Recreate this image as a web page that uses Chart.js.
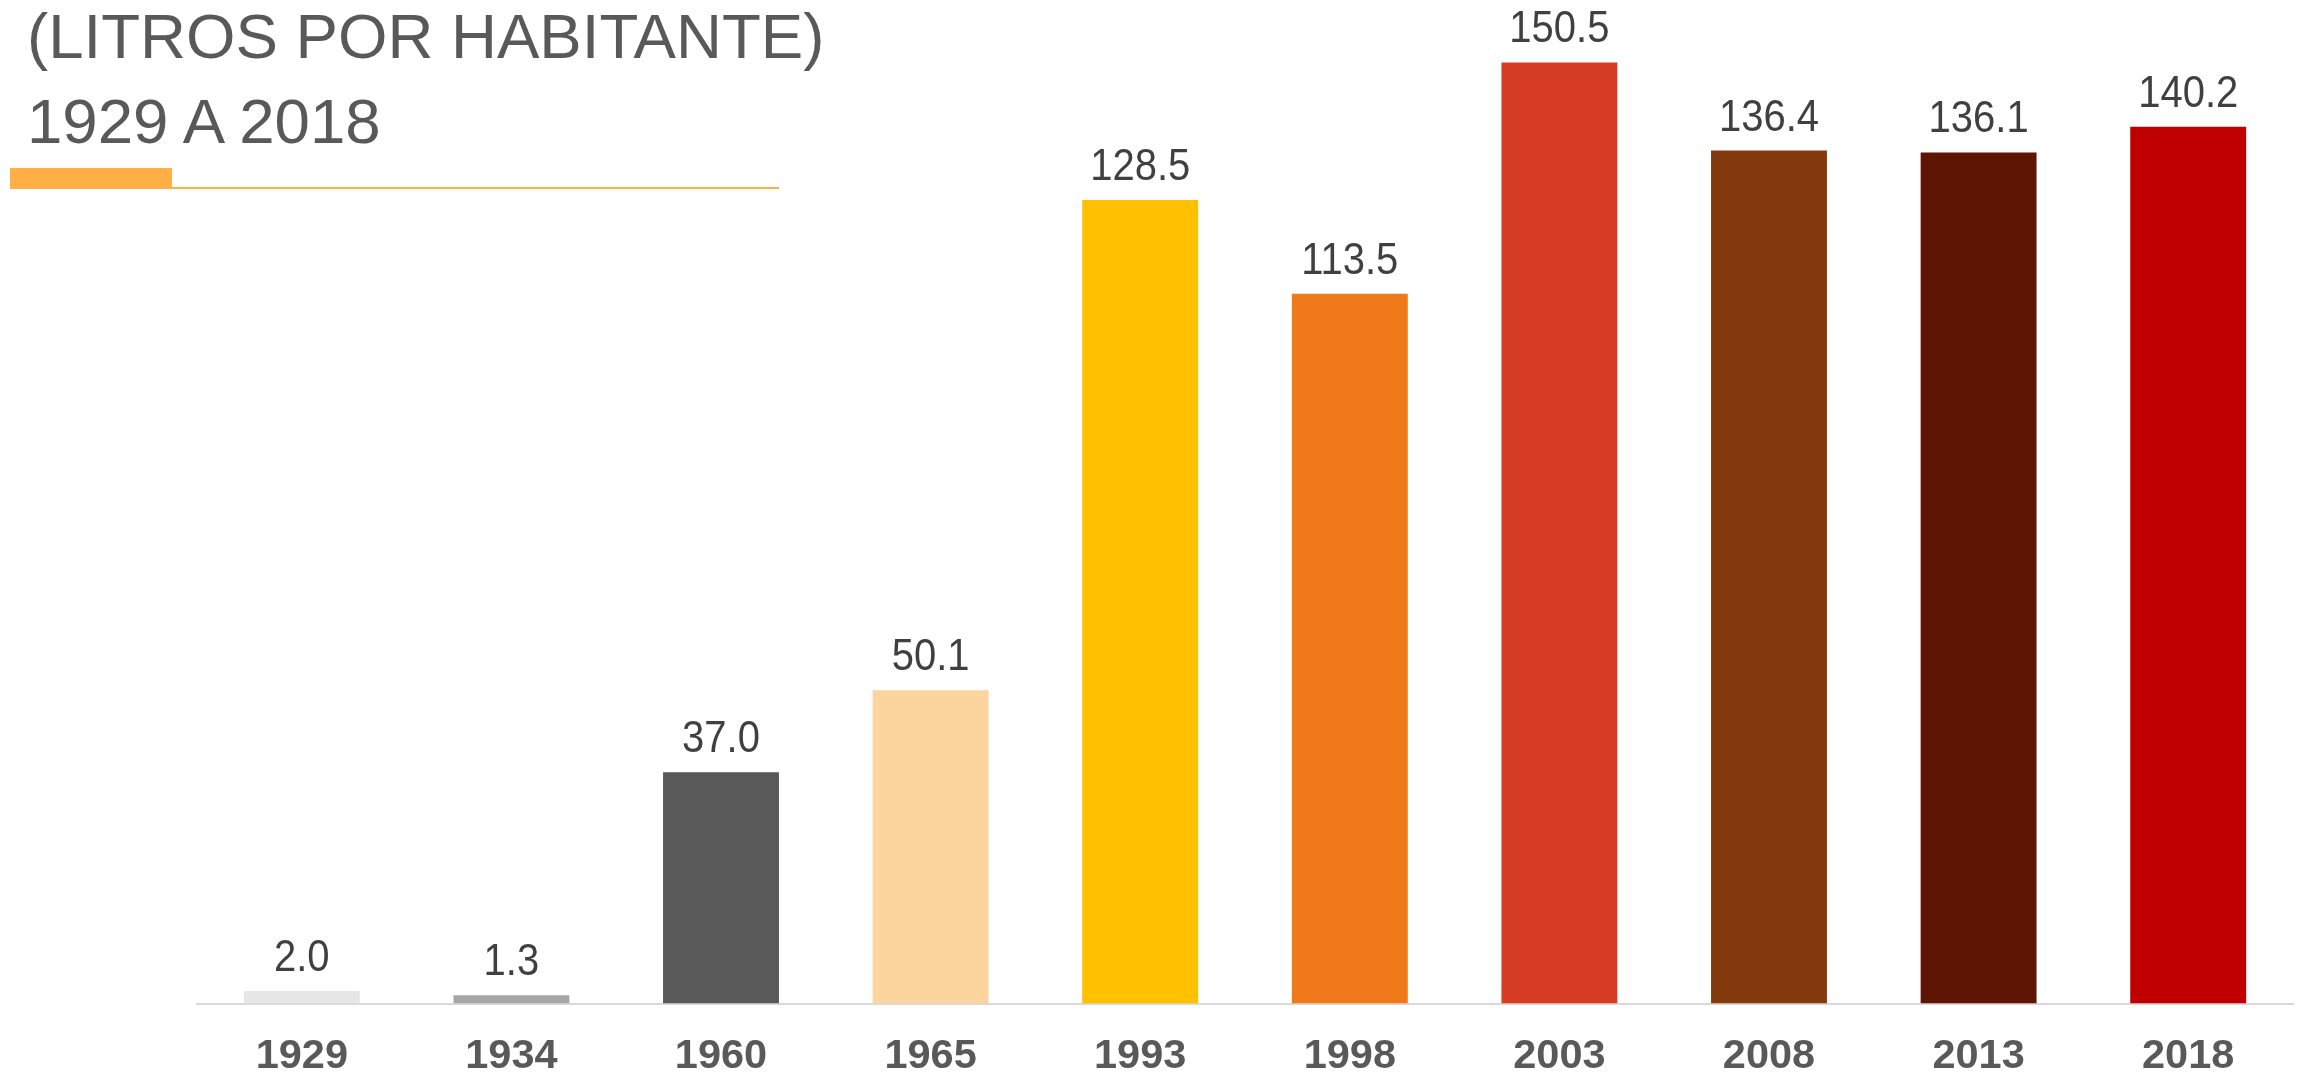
<!DOCTYPE html>
<html>
<head>
<meta charset="utf-8">
<script src="https://cdn.jsdelivr.net/npm/chart.js@4.4.1/dist/chart.umd.min.js"></script>
<style>
  html, body { margin: 0; padding: 0; background: #ffffff; }
  #wrap { position: relative; width: 2305px; height: 1077px; overflow: hidden; }
  #c { position: absolute; left: 0; top: 0; }
  .t { position: absolute; left: 27px; font-family: "Liberation Sans", Arial, sans-serif; font-size: 63.6px; line-height: 63.6px; color: #595959; white-space: nowrap; }
  #bar1 { position: absolute; left: 10px; top: 168px; width: 162px; height: 21px; background: #FFAF45; }
  #line1 { position: absolute; left: 172px; top: 187px; width: 607px; height: 2px; background: #FFAF45; }
</style>
</head>
<body>
<div id="wrap">
  <canvas id="c" width="2305" height="1077"></canvas>
  <div class="t" style="top:3.5px">(LITROS POR HABITANTE)</div>
  <div class="t" style="top:88.5px">1929 A 2018</div>
  <div id="bar1"></div>
  <div id="line1"></div>
</div>
<script>
const categories = ["1929", "1934", "1960", "1965", "1993", "1998", "2003", "2008", "2013", "2018"];
const values = [2.0, 1.3, 37.0, 50.1, 128.5, 113.5, 150.5, 136.4, 136.1, 140.2];
const barColors = ["#E6E6E6", "#A6A6A6", "#595959", "#FBD49E", "#FFC000", "#F07A1A", "#D63C23", "#843A0C", "#5E1504", "#C00000"];
const yMax = 160;

const valueLabels = {
  id: 'valueLabels',
  afterDatasetsDraw(chart) {
    const ctx = chart.ctx;
    const meta = chart.getDatasetMeta(0);
    meta.data.forEach((bar, i) => {
      ctx.save();
      ctx.font = '40px "Liberation Sans", Arial, sans-serif';
      ctx.fillStyle = '#404040';
      ctx.textAlign = 'center';
      ctx.textBaseline = 'alphabetic';
      ctx.translate(bar.x, bar.y - 20);
      ctx.scale(1, 1.1);
      ctx.fillText(values[i].toFixed(1), 0, 0);
      ctx.restore();
    });
  }
};

new Chart(document.getElementById('c'), {
  type: 'bar',
  data: {
    labels: categories,
    datasets: [{
      data: values,
      backgroundColor: barColors,
      borderWidth: 0,
      barPercentage: 0.553,
      categoryPercentage: 1.0
    }]
  },
  options: {
    responsive: false,
    animation: false,
    layout: { padding: { left: 197, right: 12, top: 3, bottom: 0 } },
    plugins: { legend: { display: false }, tooltip: { enabled: false }, title: { display: false } },
    scales: {
      x: {
        grid: { display: false, drawTicks: false },
        border: { display: true, color: '#D9D9D9', width: 2 },
        ticks: {
          color: '#595959',
          padding: 28,
          font: { family: '"Liberation Sans", Arial, sans-serif', size: 41.5, weight: 'bold' }
        },
        afterFit(axis) { axis.height = 73.5; }
      },
      y: {
        display: false,
        min: 0,
        max: yMax
      }
    }
  },
  plugins: [valueLabels]
});
</script>
</body>
</html>
